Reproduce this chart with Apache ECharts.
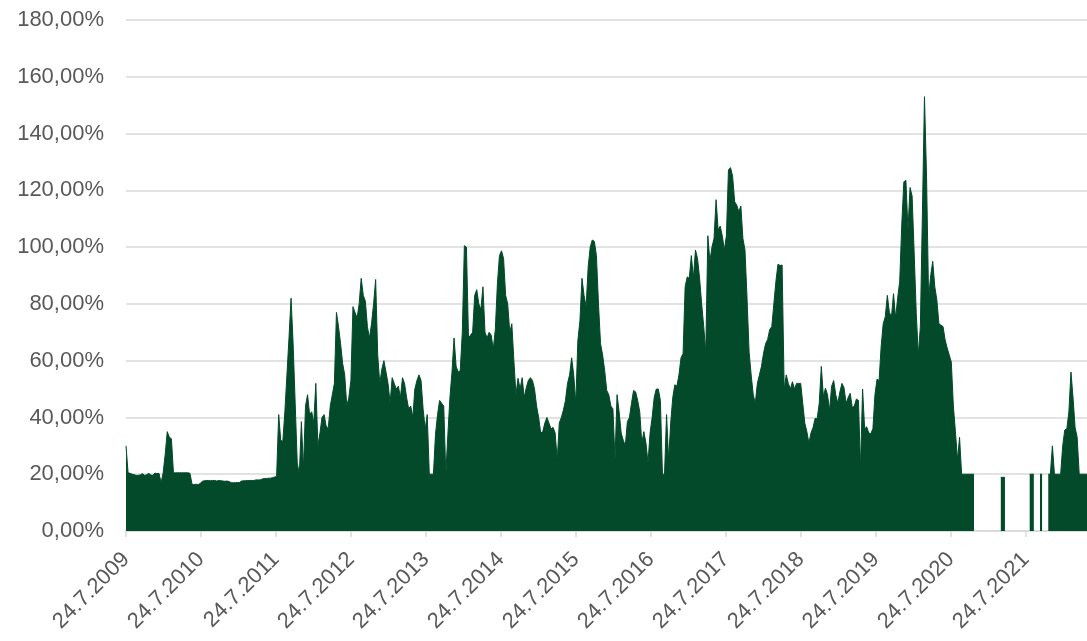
<!DOCTYPE html>
<html>
<head>
<meta charset="utf-8">
<script src="https://cdn.jsdelivr.net/npm/echarts@6/dist/echarts.min.js"></script>
<style>
html,body{margin:0;padding:0;background:#fff;}
#chart{width:1087px;height:641px;}
</style>
</head>
<body>
<div id="chart"></div>
<script>
// Sampled series (one value roughly every 10 days, starting 24.7.2009), in percent
const seg2009 = [30,20.5,20.3,20,19.8,19.6,19.6,19.8,20.2,19.6,19.8,20.3,19.7,19.6,20.4,20.2,20.3,17,20.4,27,35,33,32.5,20.5,20.5,20.5,20.5,20.5,20.5,20.5,20.5,20.3,16.5,16.3,16.5,16.3,16.8];
const seg2010 = [17.5,17.7,17.8,17.8,17.7,17.8,17.8,17.6,17.8,17.7,17.6,17.5,17.6,17.4,17.0,17.0,17.0,17.1,17.1,17.6,17.7,17.7,17.8,17.8,17.8,17.8,18.0,18.0,18.0,18.3,18.5,18.5,18.6,18.6,18.8,19,19.2];
const seg2011 = [41,32,31.5,42,55,68,82,66,45,24,20,38.5,22,44,48,41,42,38,52,30,34.5,40,41,37,36,44,48,52,77,72,66,59,55,44,47,53,79];
const seg2012 = [77,75,80,89,83,81,72,68,73,80,88.6,62,52,57,60,56,52,45,54,52,50,51,47,54,52,47,43,44,40,50,53,55,53,43,36,41];
const seg2013 = [20,20,20,34,41,46,45,44,20,34,47,56,68,58,56,56.5,70,100.5,100,68,69,70,83,85,80,78,86,70,68,70,69,64,71,87,97,98.7,96];
const seg2014 = [83,80,70,73,60,48,53.8,50,54,47,50.5,53,54,53,50,44,40,34.5,35,38,40,38,36,36.5,34.5,25,38,40,42.6,46,52,55,61,55,45,67];
const seg2015 = [74,89,83,79,93,100,102.5,102,97,80,66,62,56.5,49.5,48,44,43,25,48,42,34.5,32,30,38.5,40,45,49.5,49,46,42,31,35,31,24,34.5,40,47];
const seg2016 = [50,50,46,20,20,41,25,38,47,51.5,51,55,61,62.5,86,89.5,89,97,89,99,96,89,80,72,63,104,95,100,103,116.7,106,107.4,104,99,104,127.2];
const seg2017 = [128,125,116,114.8,112.5,114.5,103,99,82,63,55,48,45,52,55,58,62.6,66,67.5,71,72,80,88,94,93.5,93.7,50,55,52,50,52.6,50,52,52,52,45,38];
const seg2018 = [35,31,34.5,36.5,39.7,39.5,45,58,47.3,50.3,48,42.5,51,53,48,45,49,52,50.5,45,47,48.5,43.5,44,46.5,46,22,50,36,36.7,34.5,34.3,36,48,53.5,53];
const seg2019 = [65,73,75.5,83,77,75.5,83.6,75,82,88,108,123,123.5,106,121,118,98,77,62,72,112,153,125,82,90,95,86,81.4,73,72.5,72,67.3,64.5,62,59.5,44,35];
const seg2020 = [25,33,20,20,20,20,20,20,20,
  null,null,null,null,null,null,null,null,null,null,null,null,
  18.9,18.9,18.9,
  null,null,null,null,null,null,null,null,null,null,null,
  20];
const seg2021 = [20,20,null,null,20,20,null,null,20,20,30,20,20,20,20,30,35.6,36,42,56,47,36.5,33,20,20,20,20,20];

const yearLabels = ['24.7.2009','24.7.2010','24.7.2011','24.7.2012','24.7.2013','24.7.2014','24.7.2015','24.7.2016','24.7.2017','24.7.2018','24.7.2019','24.7.2020','24.7.2021'];
const stepDays = 10.05;
const totalDays = 4681;

const values = [].concat(seg2009, seg2010, seg2011, seg2012, seg2013, seg2014, seg2015, seg2016, seg2017, seg2018, seg2019, seg2020, seg2021);
const seriesData = values.map((v, i) => [i * stepDays, v]);

const DAY = 86400000;
const t0 = Date.UTC(2009, 6, 24);
const yearDays = yearLabels.map(s => {
  const p = s.split('.');
  return Math.round((Date.UTC(+p[2], +p[1] - 1, +p[0]) - t0) / DAY);
});

const chart = echarts.init(document.getElementById('chart'), null, {renderer: 'canvas'});
const green = '#034a2b';
const grey = '#d9d9d9';
const font = "'Liberation Sans', Arial, sans-serif";

chart.setOption({
  animation: false,
  backgroundColor: '#ffffff',
  grid: {left: 126, right: 0, top: 20, bottom: 110, containLabel: false},
  xAxis: {
    type: 'value',
    min: 0,
    max: totalDays,
    splitLine: {show: false},
    axisLine: {show: true, lineStyle: {color: grey, width: 1.5}},
    axisTick: {show: true, customValues: yearDays, length: 6, lineStyle: {color: grey, width: 1.5}},
    axisLabel: {
      customValues: yearDays,
      rotate: 45,
      margin: 25,
      color: '#595959',
      fontSize: 22,
      fontFamily: font,
      formatter: function (v) {
        const idx = yearDays.indexOf(Math.round(v));
        return idx >= 0 ? yearLabels[idx] : '';
      }
    }
  },
  yAxis: {
    type: 'value',
    min: 0,
    max: 180,
    interval: 20,
    axisLine: {show: false},
    axisTick: {show: false},
    splitLine: {show: true, lineStyle: {color: grey, width: 1.5}},
    axisLabel: {
      margin: 22,
      color: '#595959',
      fontSize: 22,
      fontFamily: font,
      formatter: function (v) { return v.toFixed(2).replace('.', ',') + '%'; }
    }
  },
  series: [{
    type: 'line',
    data: seriesData,
    symbol: 'none',
    connectNulls: false,
    sampling: null,
    clip: true,
    lineStyle: {color: green, width: 1},
    itemStyle: {color: green},
    areaStyle: {color: green, opacity: 1}
  }]
});
</script>
</body>
</html>
